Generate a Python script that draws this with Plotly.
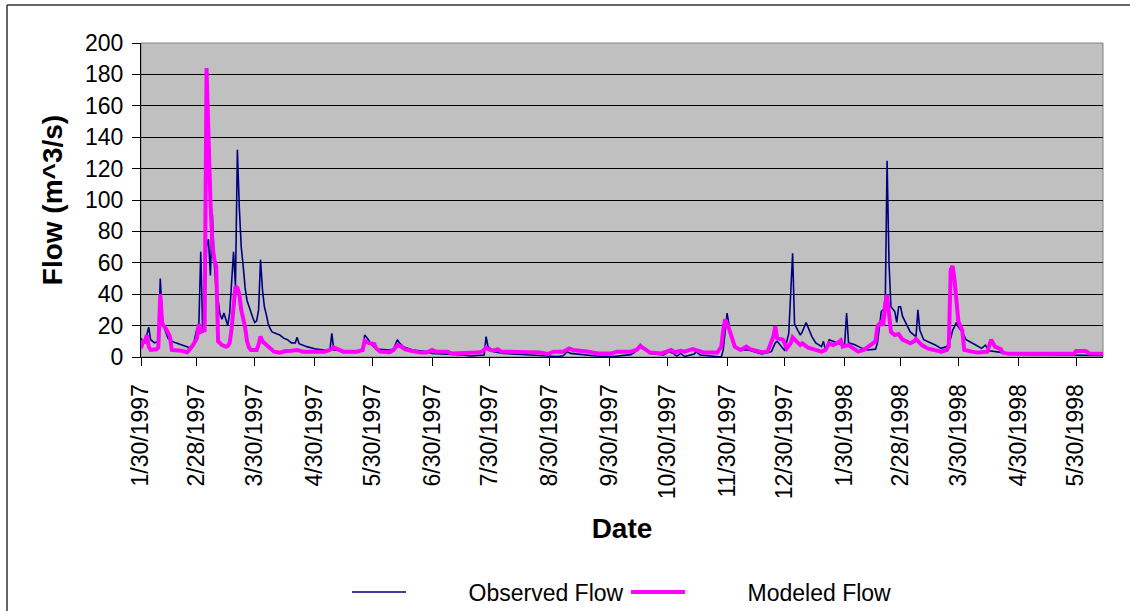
import plotly.graph_objects as go

# ---------------- data ----------------
obs_dates = [
    "1997-01-30", "1997-01-31", "1997-02-01", "1997-02-03", "1997-02-04", "1997-02-06", "1997-02-08",
    "1997-02-09", "1997-02-10", "1997-02-11", "1997-02-13", "1997-02-15", "1997-02-17", "1997-02-19",
    "1997-02-21", "1997-02-23", "1997-02-25", "1997-02-26", "1997-02-27", "1997-02-28", "1997-03-01",
    "1997-03-02", "1997-03-03", "1997-03-04", "1997-03-05", "1997-03-06", "1997-03-07", "1997-03-08",
    "1997-03-09", "1997-03-10", "1997-03-11", "1997-03-12", "1997-03-13", "1997-03-14", "1997-03-15",
    "1997-03-16", "1997-03-17", "1997-03-18", "1997-03-19", "1997-03-20", "1997-03-21", "1997-03-22",
    "1997-03-23", "1997-03-24", "1997-03-25", "1997-03-26", "1997-03-27", "1997-03-28", "1997-03-29",
    "1997-03-30", "1997-03-31", "1997-04-01", "1997-04-02", "1997-04-03", "1997-04-04", "1997-04-05",
    "1997-04-06", "1997-04-07", "1997-04-08", "1997-04-10", "1997-04-12", "1997-04-14", "1997-04-16",
    "1997-04-18", "1997-04-20", "1997-04-21", "1997-04-22", "1997-04-26", "1997-05-01", "1997-05-05",
    "1997-05-08", "1997-05-09", "1997-05-10", "1997-05-15", "1997-05-22", "1997-05-25", "1997-05-26",
    "1997-05-28", "1997-05-29", "1997-06-01", "1997-06-08", "1997-06-10", "1997-06-12", "1997-06-13",
    "1997-06-15", "1997-06-20", "1997-06-25", "1997-06-27", "1997-06-30", "1997-07-09", "1997-07-16",
    "1997-07-20", "1997-07-27", "1997-07-28", "1997-07-29", "1997-08-01", "1997-08-06", "1997-08-20",
    "1997-08-28", "1997-09-03", "1997-09-06", "1997-09-08", "1997-09-10", "1997-09-16", "1997-09-23",
    "1997-10-02", "1997-10-11", "1997-10-13", "1997-10-16", "1997-10-18", "1997-10-21", "1997-10-28",
    "1997-10-31", "1997-11-02", "1997-11-04", "1997-11-06", "1997-11-08", "1997-11-13", "1997-11-14",
    "1997-11-16", "1997-11-23", "1997-11-27", "1997-11-28", "1997-11-30", "1997-12-02", "1997-12-04",
    "1997-12-07", "1997-12-11", "1997-12-14", "1997-12-18", "1997-12-23", "1997-12-25", "1997-12-26",
    "1997-12-28", "1997-12-30", "1997-12-31", "1998-01-01", "1998-01-03", "1998-01-04", "1998-01-07",
    "1998-01-08", "1998-01-10", "1998-01-13", "1998-01-15", "1998-01-18", "1998-01-19", "1998-01-20",
    "1998-01-22", "1998-01-24", "1998-01-27", "1998-01-29", "1998-01-30", "1998-01-31", "1998-02-01",
    "1998-02-04", "1998-02-08", "1998-02-11", "1998-02-15", "1998-02-16", "1998-02-18", "1998-02-19",
    "1998-02-20", "1998-02-21", "1998-02-22", "1998-02-23", "1998-02-25", "1998-02-26", "1998-02-27",
    "1998-02-28", "1998-03-01", "1998-03-03", "1998-03-05", "1998-03-07", "1998-03-08", "1998-03-09",
    "1998-03-10", "1998-03-12", "1998-03-14", "1998-03-18", "1998-03-21", "1998-03-24", "1998-03-26",
    "1998-03-27", "1998-03-29", "1998-03-30", "1998-04-01", "1998-04-03", "1998-04-08", "1998-04-11",
    "1998-04-13", "1998-04-15", "1998-04-22", "1998-04-25", "1998-05-05", "1998-05-30", "1998-06-13",
]
obs_flow = [
    12, 10, 9, 19, 11, 9, 10,
    50, 25, 19, 12, 10, 9, 8,
    7.5, 6.5, 5.5, 7, 12, 18, 20,
    67, 17, 30, 70, 75, 52, 91,
    60, 42, 36, 27, 24, 28, 24,
    20, 28, 50, 67, 45, 132, 95,
    70, 58, 44, 36, 32, 28, 25,
    22, 23, 30, 62, 43, 32, 27,
    21, 18, 16, 15, 14, 12, 11,
    9, 9, 12.5, 8.5, 6.6, 5, 4.5,
    4.5, 15, 4.5, 4, 3.4, 4, 14,
    11, 8.7, 5, 4.5, 5, 11, 9,
    6.6, 4.5, 4, 3.4, 2.3, 1.9, 1.3,
    0.6, 1.3, 13, 6.6, 3.4, 2.3, 1.3,
    0.6, 0.3, 0.8, 3.4, 2.3, 1.3, 0.6,
    0.3, 1.5, 3, 8, 5.5, 2.3, 1.3,
    3.4, 2.3, 0.6, 2.3, 0.3, 1.9, 3.4,
    1.3, 0.3, 0, 4.5, 28, 13, 6.6,
    4.5, 4.5, 3.4, 2, 3.4, 9, 10,
    6.6, 4, 10, 15, 66, 21, 14,
    16, 22, 13, 9, 6.6, 10, 4.5,
    11, 10, 9, 7.6, 8.5, 28, 9,
    8, 5.5, 4.5, 5, 9, 29, 30,
    29, 125, 60, 32, 29, 22, 32,
    32, 26, 21, 16, 14, 13, 30,
    17, 11, 10, 7.6, 5.5, 6.6, 12,
    17, 22, 19, 16, 11, 7.6, 5.5,
    7.6, 4, 2.8, 2, 1.5, 1.3, 1,
]

mod_dates = [
    "1997-01-30", "1997-01-31", "1997-02-01", "1997-02-02", "1997-02-03", "1997-02-04", "1997-02-07",
    "1997-02-08", "1997-02-09", "1997-02-10", "1997-02-12", "1997-02-14", "1997-02-15", "1997-02-18",
    "1997-02-20", "1997-02-23", "1997-02-24", "1997-02-26", "1997-02-28", "1997-03-01", "1997-03-02",
    "1997-03-04", "1997-03-05", "1997-03-06", "1997-03-07", "1997-03-08", "1997-03-09", "1997-03-10",
    "1997-03-11", "1997-03-13", "1997-03-15", "1997-03-16", "1997-03-17", "1997-03-18", "1997-03-19",
    "1997-03-20", "1997-03-21", "1997-03-22", "1997-03-23", "1997-03-25", "1997-03-26", "1997-03-27",
    "1997-03-28", "1997-03-31", "1997-04-01", "1997-04-02", "1997-04-03", "1997-04-06", "1997-04-09",
    "1997-04-12", "1997-04-15", "1997-04-18", "1997-04-21", "1997-04-24", "1997-05-05", "1997-05-08",
    "1997-05-10", "1997-05-12", "1997-05-15", "1997-05-22", "1997-05-25", "1997-05-26", "1997-05-28",
    "1997-05-31", "1997-06-01", "1997-06-03", "1997-06-08", "1997-06-10", "1997-06-12", "1997-06-14",
    "1997-06-16", "1997-06-19", "1997-06-24", "1997-06-27", "1997-06-30", "1997-07-02", "1997-07-08",
    "1997-07-10", "1997-07-17", "1997-07-23", "1997-07-26", "1997-07-28", "1997-07-30", "1997-08-01",
    "1997-08-03", "1997-08-05", "1997-08-08", "1997-08-17", "1997-08-25", "1997-08-29", "1997-09-01",
    "1997-09-06", "1997-09-09", "1997-09-11", "1997-09-17", "1997-09-19", "1997-09-24", "1997-10-01",
    "1997-10-04", "1997-10-11", "1997-10-14", "1997-10-16", "1997-10-19", "1997-10-21", "1997-10-27",
    "1997-10-29", "1997-11-01", "1997-11-03", "1997-11-06", "1997-11-08", "1997-11-12", "1997-11-15",
    "1997-11-18", "1997-11-25", "1997-11-27", "1997-11-28", "1997-11-29", "1997-12-01", "1997-12-04",
    "1997-12-07", "1997-12-10", "1997-12-12", "1997-12-14", "1997-12-18", "1997-12-21", "1997-12-24",
    "1997-12-25", "1997-12-26", "1997-12-29", "1997-12-31", "1998-01-02", "1998-01-03", "1998-01-05",
    "1998-01-07", "1998-01-08", "1998-01-11", "1998-01-15", "1998-01-18", "1998-01-20", "1998-01-22",
    "1998-01-24", "1998-01-26", "1998-01-28", "1998-01-29", "1998-02-01", "1998-02-04", "1998-02-06",
    "1998-02-09", "1998-02-12", "1998-02-15", "1998-02-16", "1998-02-18", "1998-02-19", "1998-02-20",
    "1998-02-21", "1998-02-22", "1998-02-23", "1998-02-25", "1998-02-27", "1998-03-01", "1998-03-02",
    "1998-03-05", "1998-03-07", "1998-03-08", "1998-03-11", "1998-03-14", "1998-03-18", "1998-03-21",
    "1998-03-24", "1998-03-25", "1998-03-26", "1998-03-27", "1998-03-28", "1998-03-30", "1998-04-01",
    "1998-04-02", "1998-04-06", "1998-04-09", "1998-04-14", "1998-04-16", "1998-04-18", "1998-04-21",
    "1998-04-22", "1998-04-25", "1998-05-29", "1998-05-30", "1998-06-04", "1998-06-06", "1998-06-13",
]
mod_flow = [
    5.5, 9.8, 10, 14, 6.6, 4.5, 4.9,
    6, 40, 21, 18, 13, 4.5, 4.5,
    4, 3, 4.5, 7.6, 12, 21, 16,
    17, 184, 130, 100, 72, 62, 58,
    10, 7.6, 6.6, 7, 9, 18, 30,
    45, 44, 40, 30, 19, 10, 6,
    4.5, 4.5, 8, 13, 10, 6.6, 3.4,
    2.8, 3.8, 4, 4.5, 3.4, 3.4, 4.5,
    6, 5, 3.4, 3.4, 4.5, 10.4, 9,
    8.3, 5.5, 3.4, 3, 4.5, 7.6, 6.6,
    4.9, 4, 2.8, 2.8, 4.5, 3.4, 3.4,
    2.3, 2.3, 2.8, 3.4, 6, 4.5, 4,
    5, 3.4, 3.4, 2.8, 2.8, 1.9, 3.4,
    3.4, 5.5, 4.5, 4, 3.4, 2.3, 2.3,
    3.4, 3.4, 4.5, 7, 4.5, 2.8, 2.3,
    3.4, 4.5, 3, 4, 3.4, 5, 4,
    2.8, 2.8, 6.6, 17, 24, 18, 6.6,
    4.5, 6.6, 5, 4.5, 3, 3.4, 13,
    19.5, 12, 11, 5.5, 8.7, 12.5, 10,
    7.6, 8.7, 6, 4.5, 3.4, 4.5, 8.7,
    7.6, 8.7, 10.6, 6.6, 7.6, 5.5, 3.4,
    4.5, 7.6, 10, 19.5, 22.5, 20, 34,
    39.5, 25.7, 16, 14, 14.6, 11, 10.6,
    8.7, 10, 11.5, 7.6, 5.5, 4.5, 3.4,
    4.5, 6.6, 55.6, 58, 49, 22.5, 17,
    4.5, 3.4, 2.8, 3.4, 11, 6.6, 5,
    2.8, 2, 2, 3.8, 3.8, 2.3, 2,
]

tick_dates = [
    "1997-01-30", "1997-02-28", "1997-03-30", "1997-04-30", "1997-05-30", "1997-06-30",
    "1997-07-30", "1997-08-30", "1997-09-30", "1997-10-30", "1997-11-30", "1997-12-30",
    "1998-01-30", "1998-02-28", "1998-03-30", "1998-04-30", "1998-05-30",
]
tick_labels = [
    "1/30/1997", "2/28/1997", "3/30/1997", "4/30/1997", "5/30/1997", "6/30/1997",
    "7/30/1997", "8/30/1997", "9/30/1997", "10/30/1997", "11/30/1997", "12/30/1997",
    "1/30/1998", "2/28/1998", "3/30/1998", "4/30/1998", "5/30/1998",
]
y_ticks = [0, 20, 40, 60, 80, 100, 120, 140, 160, 180, 200]
series_names = ["Observed Flow", "Modeled Flow"]

FONT = "Liberation Sans, Arial, sans-serif"
PAD = "\u00a0" * 9  # gap between legend line sample and its label, as in the original

fig = go.Figure()
fig.add_trace(go.Scatter(
    x=obs_dates, y=obs_flow, mode="lines", name=PAD + series_names[0],
    line=dict(color="#000080", width=1.6),
))
fig.add_trace(go.Scatter(
    x=mod_dates, y=mod_flow, mode="lines", name=PAD + series_names[1],
    line=dict(color="#FF00FF", width=4),
))

# plot-area geometry in px
L, R, T, B = 141, 27, 43, 254
W, H = 1130, 611
pw, ph = W - L - R, H - T - B


def px_x(p):
    return (p - L) / pw


def px_y(p):
    return (H - B - p) / ph


fig.update_layout(
    width=W, height=H,
    margin=dict(l=L, r=R, t=T, b=B, pad=0, autoexpand=False),
    paper_bgcolor="white",
    plot_bgcolor="#C0C0C0",
    font=dict(family=FONT, color="black", size=23),
    showlegend=True,
    legend=dict(
        orientation="h",
        x=px_x(347), xanchor="left",
        y=px_y(592), yanchor="middle",
        font=dict(family=FONT, size=23, color="black"),
        itemwidth=54,
        entrywidth=210,
        bgcolor="rgba(0,0,0,0)",
        borderwidth=0,
    ),
    xaxis=dict(
        type="date",
        range=["1997-01-30", "1998-06-13"],
        tickmode="array", tickvals=tick_dates, ticktext=tick_labels,
        tickangle=-90,
        ticks="outside", ticklen=8, tickcolor="black", tickwidth=1,
        ticklabelstandoff=9,
        tickfont=dict(family=FONT, size=23, color="black"),
        showgrid=False, zeroline=False,
        showline=True, linecolor="black", linewidth=1,
        title=dict(text="<b>Date</b>", font=dict(family=FONT, size=28, color="black"), standoff=20),
        automargin=False,
    ),
    yaxis=dict(
        range=[0, 200],
        tickmode="array", tickvals=y_ticks,
        ticks="outside", ticklen=8, tickcolor="black", tickwidth=1,
        ticklabelstandoff=4,
        tickfont=dict(family=FONT, size=23, color="black"),
        showgrid=True, gridcolor="black", gridwidth=1,
        zeroline=False,
        showline=True, linecolor="black", linewidth=1,
        title=dict(text="<b>Flow (m^3/s)</b>", font=dict(family=FONT, size=28, color="black"), standoff=14),
        automargin=False,
    ),
    shapes=[
        # plot area border (grey)
        dict(type="rect", xref="paper", yref="paper", x0=0, x1=1, y0=0, y1=1,
             line=dict(color="#808080", width=1), layer="below"),
        # chart area border (top and left edges visible)
        dict(type="line", xref="paper", yref="paper",
             x0=px_x(7), x1=px_x(1131), y0=px_y(5), y1=px_y(5),
             line=dict(color="#333333", width=1.5)),
        dict(type="line", xref="paper", yref="paper",
             x0=px_x(7), x1=px_x(7), y0=px_y(5), y1=px_y(612),
             line=dict(color="#333333", width=1.5)),
    ],
)

fig.write_html(
    "out.html",
    include_plotlyjs=True,
    config={"displayModeBar": False, "responsive": False},
    post_script="document.body.style.margin='0';document.body.style.overflow='hidden';",
)
